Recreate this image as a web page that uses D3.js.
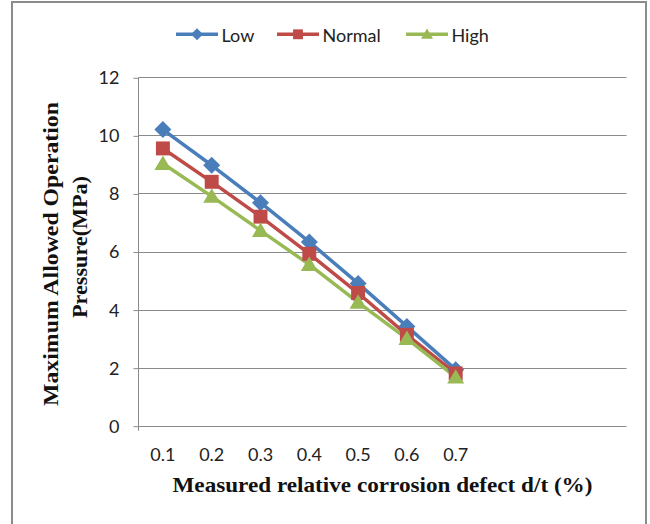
<!DOCTYPE html>
<html>
<head>
<meta charset="utf-8">
<script src="https://cdn.jsdelivr.net/npm/d3@7"></script>
<style>
  html, body { margin: 0; padding: 0; background: #fff; }
  svg { display: block; }
</style>
</head>
<body>
<svg id="chart" width="650" height="524"></svg>
<script>
const categories = ["0.1", "0.2", "0.3", "0.4", "0.5", "0.6", "0.7"];
const slotCount = 10;
const lowValues = [10.2, 8.97, 7.68, 6.33, 4.9, 3.42, 1.93];
const normalValues = [9.55, 8.4, 7.2, 5.92, 4.57, 3.13, 1.8];
const highValues = [9.03, 7.9, 6.72, 5.55, 4.25, 3.0, 1.67];
const yTicks = [0, 2, 4, 6, 8, 10, 12];
const seriesNames = ["Low", "Normal", "High"];

const colors = { Low: "#4A7EBB", Normal: "#BE4B48", High: "#98B954" };
const series = [
  { name: "Low", values: lowValues, marker: "diamond" },
  { name: "Normal", values: normalValues, marker: "square" },
  { name: "High", values: highValues, marker: "triangle" }
];

const svg = d3.select("#chart");
const plot = { left: 138.5, right: 626.5, top: 77.3, bottom: 425.7 };

// outer border
svg.append("rect")
  .attr("x", 12).attr("y", 2).attr("width", 634).attr("height", 540)
  .attr("fill", "none").attr("stroke", "#8c8c8c").attr("stroke-width", 2);

const x = d3.scaleBand().domain(d3.range(slotCount)).range([plot.left, plot.right]);
const y = d3.scaleLinear().domain([0, 12]).range([plot.bottom, plot.top]);

// gridlines
svg.append("g")
  .selectAll("line").data(yTicks).join("line")
  .attr("x1", plot.left).attr("x2", plot.right)
  .attr("y1", d => Math.round(y(d)) + 0.5).attr("y2", d => Math.round(y(d)) + 0.5)
  .attr("stroke", "#8a8a8a").attr("stroke-width", 1);

// y axis
const yAxis = d3.axisLeft(y).tickValues(yTicks).tickSize(5).tickPadding(14).tickFormat(d3.format("d"));
const gy = svg.append("g").attr("transform", `translate(${plot.left},0)`).call(yAxis);
gy.select(".domain").attr("stroke", "#8a8a8a").attr("d", `M0,${plot.top}V${plot.bottom + 5}`);
gy.selectAll(".tick line").attr("stroke", "#8a8a8a").attr("transform", "translate(0,0.5)");
gy.selectAll(".tick text").attr("font-family", "Lato, 'Open Sans', sans-serif").attr("font-size", 18)
  .attr("fill", "#222").attr("dy", "0.36em");

// x axis labels
const xAxis = d3.axisBottom(x).tickSize(0).tickPadding(0).tickFormat(i => categories[i] || "");
const gx = svg.append("g").attr("transform", `translate(0,${plot.bottom})`).call(xAxis);
gx.select(".domain").remove();
gx.selectAll(".tick text").attr("font-family", "Lato, 'Open Sans', sans-serif").attr("font-size", 18)
  .attr("fill", "#222").attr("dy", 0).attr("y", 35.3);

// lines
const line = d3.line().x((d, i) => x(i) + x.bandwidth() / 2).y(d => y(d));

function drawMarker(g, type, cx, cy, color, s) {
  if (type === "diamond") {
    g.append("path").attr("d", `M${cx},${cy - s}L${cx + s},${cy}L${cx},${cy + s}L${cx - s},${cy}Z`).attr("fill", color);
  } else if (type === "square") {
    g.append("rect").attr("x", cx - s * 0.82).attr("y", cy - s * 0.82).attr("width", s * 1.64).attr("height", s * 1.64).attr("fill", color);
  } else {
    g.append("path").attr("d", `M${cx},${cy - s * 0.95}L${cx + s},${cy + s * 0.75}L${cx - s},${cy + s * 0.75}Z`).attr("fill", color);
  }
}

series.forEach(s => {
  svg.append("path").datum(s.values)
    .attr("d", line).attr("fill", "none")
    .attr("stroke", colors[s.name]).attr("stroke-width", 3.5).attr("stroke-linejoin", "round");
});
series.forEach(s => {
  const g = svg.append("g");
  s.values.forEach((v, i) => drawMarker(g, s.marker, x(i) + x.bandwidth() / 2, y(v), colors[s.name], 8.5));
});

// legend
const legendItems = [
  { name: seriesNames[0], lx: 176, marker: "diamond" },
  { name: seriesNames[1], lx: 277, marker: "square" },
  { name: seriesNames[2], lx: 406, marker: "triangle" }
];
legendItems.forEach(it => {
  const g = svg.append("g");
  g.append("line").attr("x1", it.lx).attr("x2", it.lx + 42).attr("y1", 34.3).attr("y2", 34.3)
    .attr("stroke", colors[it.name]).attr("stroke-width", 3.5);
  drawMarker(g, it.marker, it.lx + 21, 34.3, colors[it.name], 6);
  g.append("text").attr("x", it.lx + 45.5).attr("y", 42).text(it.name)
    .attr("font-family", "Lato, 'Open Sans', sans-serif").attr("font-size", 18).attr("fill", "#222");
});

// axis titles
const titleFont = "'Liberation Serif', 'Times New Roman', serif";
svg.append("text").attr("x", (plot.left + plot.right) / 2).attr("y", 492)
  .attr("text-anchor", "middle").attr("font-family", titleFont)
  .attr("font-weight", "bold").attr("font-size", 21).attr("fill", "#111")
  .attr("textLength", 420).attr("lengthAdjust", "spacingAndGlyphs")
  .text("Measured relative corrosion defect d/t (%)");

svg.append("text").attr("transform", "translate(57.5,254) rotate(-90)")
  .attr("text-anchor", "middle").attr("font-family", titleFont)
  .attr("font-weight", "bold").attr("font-size", 21).attr("fill", "#111")
  .attr("textLength", 304).attr("lengthAdjust", "spacingAndGlyphs")
  .text("Maximum Allowed Operation");
svg.append("text").attr("transform", "translate(87,247) rotate(-90)")
  .attr("text-anchor", "middle").attr("font-family", titleFont)
  .attr("font-weight", "bold").attr("font-size", 21).attr("fill", "#111")
  .attr("textLength", 142).attr("lengthAdjust", "spacingAndGlyphs")
  .text("Pressure(MPa)");
</script>
</body>
</html>
